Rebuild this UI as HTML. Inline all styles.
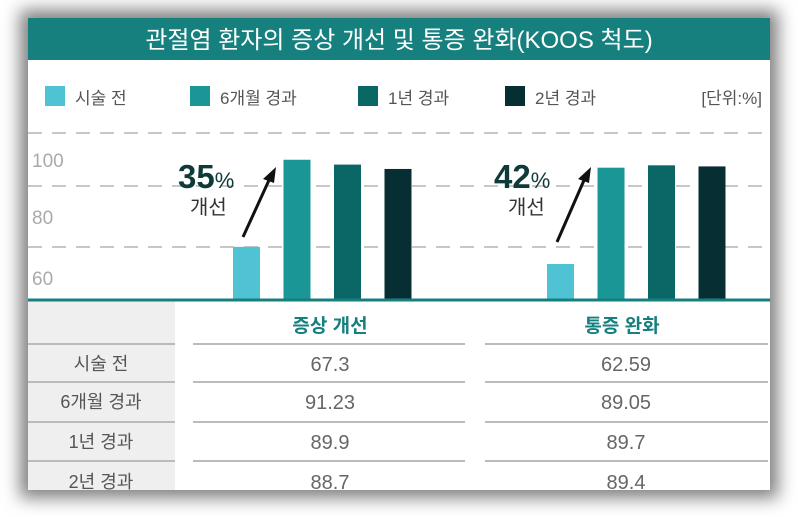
<!DOCTYPE html>
<html><head><meta charset="utf-8"><style>
body{margin:0;background:#fff;width:798px;height:517px;overflow:hidden;font-family:"Liberation Sans","Noto Sans CJK KR",sans-serif}
#card{position:absolute;left:28px;top:18px;width:742px;height:472px;background:#fff;box-shadow:0 0 16px 8px rgba(0,0,0,0.5)}
svg{position:absolute;left:0;top:0}
</style></head><body>
<div id="card"></div>
<svg width="798" height="517" id="chart" font-family="Liberation Sans, Noto Sans CJK KR, sans-serif">
<rect x="28" y="18" width="742" height="42" fill="#16807f"/>
<text x="399" y="48" text-anchor="middle" font-size="24" fill="#fff">관절염 환자의 증상 개선 및 통증 완화(KOOS 척도)</text>
<g id="legend"></g>
<text x="762" y="104" text-anchor="end" font-size="17" fill="#555">[단위:%]</text>
<g id="grid"></g><g id="bars"></g>
<rect x="28" y="300" width="147" height="190" fill="#efefef"/>
<line x1="28" y1="300" x2="770" y2="300" stroke="#16807f" stroke-width="3"/>
<g id="table"></g>
<g>
<text x="178" y="188" font-size="33" font-weight="bold" fill="#0f3a3a">35<tspan font-size="22" font-weight="normal">%</tspan></text>
<text x="190" y="214" font-size="20" fill="#333">개선</text>
<line x1="243" y1="237" x2="270" y2="178" stroke="#111" stroke-width="3"/>
<polygon points="276,167 263,179 274,183" fill="#111"/>
</g>
<g>
<text x="494" y="188" font-size="33" font-weight="bold" fill="#0f3a3a">42<tspan font-size="22" font-weight="normal">%</tspan></text>
<text x="508" y="214" font-size="20" fill="#333">개선</text>
<line x1="557" y1="242" x2="585" y2="178" stroke="#111" stroke-width="3"/>
<polygon points="591,167 578,179 589,183" fill="#111"/>
</g>
</svg>
<script>
const categories=["증상 개선","통증 완화"];
const seriesNames=["시술 전","6개월 경과","1년 경과","2년 경과"];
const symptomValues=[67.3,91.23,89.9,88.7];
const painValues=[62.59,89.05,89.7,89.4];
const symptomLabels=["67.3","91.23","89.9","88.7"];
const painLabels=["62.59","89.05","89.7","89.4"];
const yTicks=[60,80,100];
const colors=["#4fc3d3","#1a9696","#0b6666","#072f33"];
const NS="http://www.w3.org/2000/svg";
function mk(t,a,p){const e=document.createElementNS(NS,t);for(const k in a)e.setAttribute(k,a[k]);p.appendChild(e);return e;}
function y(v){return 300-(v-52.7)*3.64;}
function tickY(i){return [278,217,160][i];}
const grid=document.getElementById('grid');
[133,186,247].forEach(gy=>{const l=mk('line',{x1:28,y1:gy,x2:770,y2:gy,stroke:'#c8c8c8','stroke-width':2,'stroke-dasharray':'14 10'},grid);
});
yTicks.forEach((t,i)=>{const e=mk('text',{x:32,y:tickY(i)+7,'font-size':19,fill:'#aaa'},grid);e.textContent=t;
});
const lg=document.getElementById('legend');const lx=[45,190,358,505];
seriesNames.forEach((n,i)=>{const r=mk('rect',{x:lx[i],y:86,width:20,height:20,fill:colors[i]},lg);

const t=mk('text',{x:lx[i]+30,y:104,'font-size':17,fill:'#555'},lg);t.textContent=n;
});
const bars=document.getElementById('bars');const gx=[233,547];
[symptomValues,painValues].forEach((vals,g)=>{vals.forEach((v,i)=>{const b=mk('rect',{x:gx[g]+i*50.5,y:y(v),width:27,height:300-y(v),fill:colors[i]},bars);
});});
const tb=document.getElementById('table');
categories.forEach((c,i)=>{const t=mk('text',{x:[330,622][i],y:332,'text-anchor':'middle','font-size':19,'font-weight':'bold',fill:'#16807f'},tb);t.textContent=c;
});
const rowLines=[344,382,422,461];const rowMid=[372,410,450,490];
rowLines.forEach(ly=>{[[28,175],[193,465],[485,768]].forEach(s=>{const l=mk('line',{x1:s[0],y1:ly,x2:s[1],y2:ly,stroke:'#bbb','stroke-width':2},tb);
});});
seriesNames.forEach((n,i)=>{const t=mk('text',{x:101,y:rowMid[i]-2,'text-anchor':'middle','font-size':18,fill:'#555'},tb);t.textContent=n;

const a=mk('text',{x:330,y:rowMid[i]-1,'text-anchor':'middle','font-size':20,fill:'#666'},tb);a.textContent=symptomLabels[i];

const b=mk('text',{x:626,y:rowMid[i]-1,'text-anchor':'middle','font-size':20,fill:'#666'},tb);b.textContent=painLabels[i];
});
</script>
</body></html>
